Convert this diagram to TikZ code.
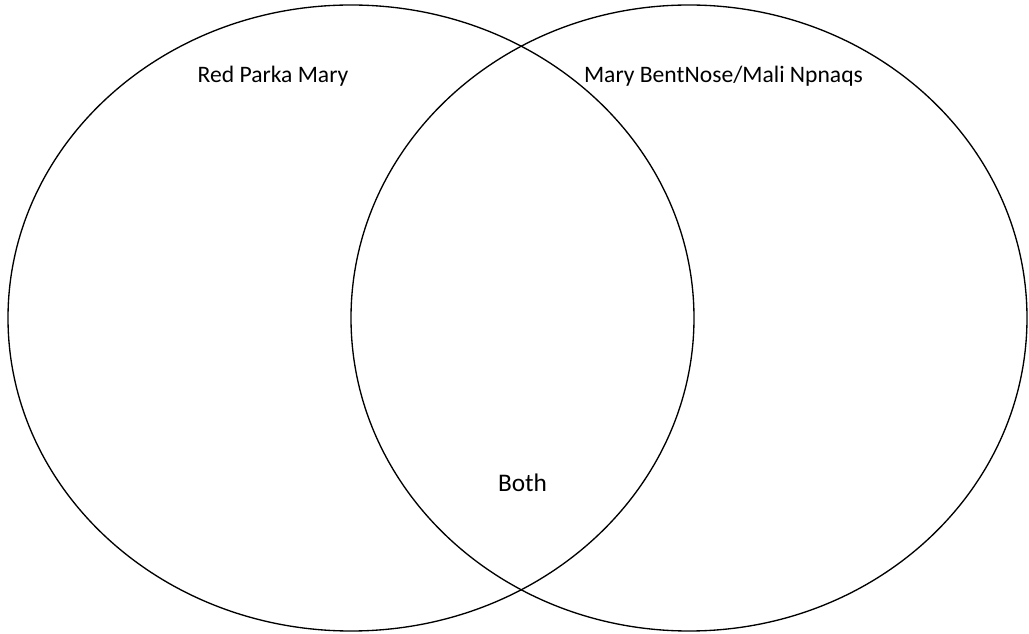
\documentclass[tikz,border=0pt]{standalone}
\usepackage{fontspec}
\setmainfont{Carlito}

\begin{document}
\begin{tikzpicture}[x=0.75pt,y=-0.75pt]
	\useasboundingbox (0,0) rectangle (1029,634);
	
	% Left set
	\draw[line width=1pt] (351,318) ellipse [x radius=343, y radius=313];
	\node[anchor=base] (red) at (273,83) {\fontsize{17.7}{21}\selectfont Red Parka Mary};
	
	% Right set
	\draw[line width=1pt] (689,318) ellipse [x radius=338, y radius=313];
	\node[anchor=base] (bent) at (723.5,83) {\fontsize{17.7}{21}\selectfont Mary BentNose/Mali Npnaqs};
	
	% Overlap
	\node[anchor=base] (both) at (522.5,492) {\fontsize{19}{23}\selectfont Both};
\end{tikzpicture}
\end{document}
